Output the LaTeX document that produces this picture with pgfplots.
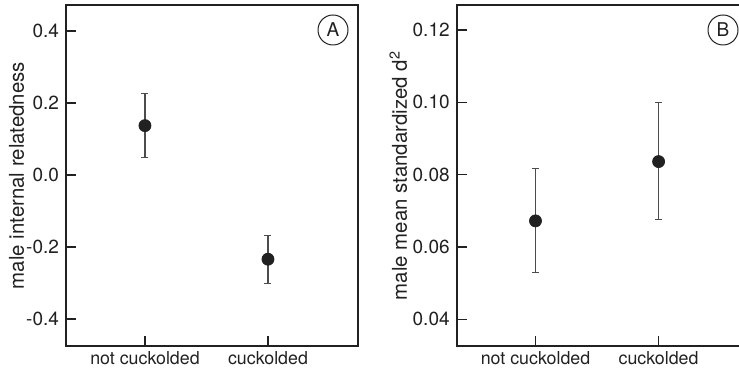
\documentclass[border=0pt]{standalone}
\usepackage{pgfplots}
\pgfplotsset{compat=1.18}
\usepackage{fontspec}
\setmainfont{TeX Gyre Heros}
\definecolor{ink}{gray}{0.13}
\begin{document}
\begin{tikzpicture}
\pgfplotsset{
  myax/.style={
    scale only axis, width=146pt, height=170.5pt,
    axis line style={ink, line width=0.8pt},
    tick style={ink, line width=0.6pt},
    tick align=inside, tick pos=left, major tick length=5pt,
    xtick={0,1}, xticklabels={not cuckolded, cuckolded},
    xticklabel style={font=\fontsize{8.9}{10}\selectfont, text=ink, yshift=1pt},
    yticklabel style={font=\fontsize{9.5}{10}\selectfont, text=ink},
    /pgf/number format/assume math mode=true,
    clip=false,
  },
  myplot/.style={
    only marks, mark=*, mark size=3pt, color=ink,
    mark options={fill=ink, draw=ink},
    error bars/.cd, y dir=both, y explicit,
    error bar style={line width=0.55pt, black!70},
    error mark options={rotate=90, mark size=1.75pt, line width=0.55pt, black!70},
  },
}
\begin{axis}[myax, at={(0,0)}, anchor=south west,
  xmin=-0.642, xmax=1.732, ymin=-0.475, ymax=0.472,
  ytick={-0.4,-0.2,0,0.2,0.4}, yticklabels={-0.4,-0.2,0.0,0.2,0.4},
  ylabel={male internal relatedness},
  ylabel style={at={(axis description cs:-0.169,0.5)}, anchor=center, font=\fontsize{10.2}{12}\selectfont, text=ink},
]
\addplot[myplot] coordinates {
  (0,0.137) += (0,0.088) -= (0,0.088)
  (1,-0.234) += (0,0.066) -= (0,0.067)
};
\end{axis}
\begin{axis}[myax, at={(195.35pt,0)}, anchor=south west,
  xmin=-0.64, xmax=1.732, ymin=0.0326, ymax=0.1269,
  ytick={0.04,0.06,0.08,0.10,0.12}, yticklabels={0.04,0.06,0.08,0.10,0.12},
  ylabel={male mean standardized d\textsuperscript{2}},
  ylabel style={at={(axis description cs:-0.2,0.5)}, anchor=center, font=\fontsize{10.2}{12}\selectfont, text=ink},
]
\addplot[myplot] coordinates {
  (0,0.0672) += (0,0.0144) -= (0,0.0144)
  (1,0.0836) += (0,0.0164) -= (0,0.0159)
};
\end{axis}
\node[draw=ink, line width=0.5pt, circle, minimum size=15pt, inner sep=0pt, text=ink, font=\fontsize{9.5}{10}\selectfont] at (133.5pt,158pt) {A};
\node[draw=ink, line width=0.5pt, circle, minimum size=15pt, inner sep=0pt, text=ink, font=\fontsize{9.5}{10}\selectfont] at (328.5pt,158pt) {B};
\pgfresetboundingbox
\path[use as bounding box] (-33pt,-13.5pt) rectangle (336.5pt,173pt);
\end{tikzpicture}
\end{document}
